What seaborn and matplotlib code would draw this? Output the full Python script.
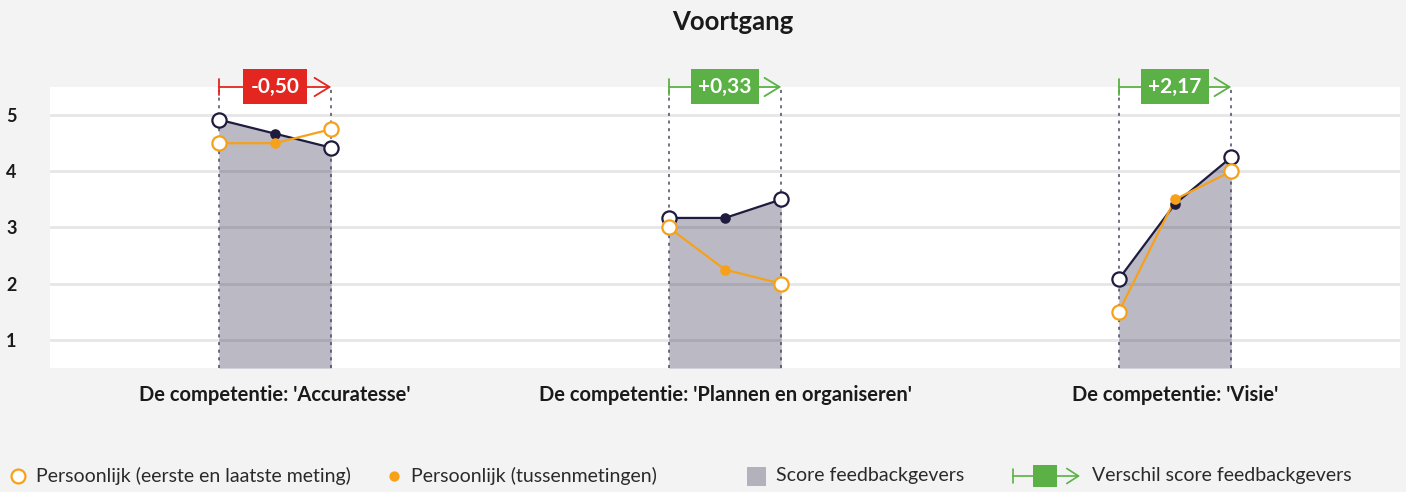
import matplotlib
matplotlib.use("Agg")
import matplotlib.pyplot as plt
import seaborn as sns
import pandas as pd
import numpy as np

# ---------------- data ----------------
categories = ["De competentie: 'Accuratesse'",
              "De competentie: 'Plannen en organiseren'",
              "De competentie: 'Visie'"]
feedback_first = [4.92, 3.17, 2.08]
feedback_mid = [4.67, 3.17, 3.42]
feedback_last = [4.42, 3.50, 4.25]
personal_first = [4.50, 3.00, 1.50]
personal_mid = [4.50, 2.25, 3.50]
personal_last = [4.75, 2.00, 4.00]
y_ticks = [1, 2, 3, 4, 5]

title = "Voortgang"
legend_labels = ["Persoonlijk (eerste en laatste meting)",
                 "Persoonlijk (tussenmetingen)",
                 "Score feedbackgevers",
                 "Verschil score feedbackgevers"]

# ---------------- style ----------------
BG = "#f3f3f3"
DARK = "#1f1b3e"
ORANGE = "#f7a11a"
RED = "#e3261f"
GREEN = "#5bb146"
GRID = "#e6e6e6"
TXT = "#1a1a1a"
LEGTXT = "#2a2a2a"

sns.set_theme(style="white")
plt.rcParams["font.family"] = ["Lato", "DejaVu Sans"]

fig = plt.figure(figsize=(14.06, 4.92), dpi=100, facecolor=BG)
ax = fig.add_axes([50 / 1406, 1 - 368 / 492, 1350 / 1406, 281 / 492])
ax.set_facecolor("white")
ax.set_xlim(0, 3)
ax.set_ylim(0.5, 5.5)
for s in ax.spines.values():
    s.set_visible(False)
ax.set_yticks(y_ticks)
ax.set_yticklabels([str(t) for t in y_ticks], fontsize=13, fontweight="bold", color=TXT)
ax.tick_params(axis="y", length=0, pad=24)
ax.set_xticks([])
for t in y_ticks:
    ax.axhline(t, color=GRID, lw=2, zorder=0)

OFF = 0.125
PXY = 5.0 / 281  # data units per pixel (y)
rows_fb, rows_ps = [], []
for i, cat in enumerate(categories):
    c = i + 0.5
    xs = [c - OFF, c, c + OFF]
    for x, v in zip(xs, [feedback_first[i], feedback_mid[i], feedback_last[i]]):
        rows_fb.append({"cat": cat, "x": x, "y": v})
    for x, v in zip(xs, [personal_first[i], personal_mid[i], personal_last[i]]):
        rows_ps.append({"cat": cat, "x": x, "y": v})
fb = pd.DataFrame(rows_fb)
ps = pd.DataFrame(rows_ps)

for i, cat in enumerate(categories):
    c = i + 0.5
    d_fb = fb[fb["cat"] == cat]
    d_ps = ps[ps["cat"] == cat]
    # area
    ax.fill_between(d_fb["x"], 0.5, d_fb["y"], color=DARK, alpha=0.3, lw=0, zorder=1)
    # dotted verticals
    for x in (c - OFF, c + OFF):
        ax.plot([x, x], [0.5, 5.5], color="#4a4866", lw=1.1, ls=(0, (2, 3)),
                zorder=1.5, clip_on=False)
    # lines
    sns.lineplot(data=d_fb, x="x", y="y", color=DARK, lw=1.6, ax=ax,
                 zorder=3, sort=False, estimator=None)
    sns.lineplot(data=d_ps, x="x", y="y", color=ORANGE, lw=1.6, ax=ax,
                 zorder=4, sort=False, estimator=None)
    # markers
    ends_fb = d_fb.iloc[[0, 2]]
    ends_ps = d_ps.iloc[[0, 2]]
    ax.scatter(d_fb["x"].iloc[1], d_fb["y"].iloc[1], s=58, color=DARK, zorder=5, lw=0)
    ax.scatter(ends_fb["x"], ends_fb["y"], s=105, facecolor="white",
               edgecolor=DARK, lw=1.6, zorder=5)
    ax.scatter(d_ps["x"].iloc[1], d_ps["y"].iloc[1], s=58, color=ORANGE, zorder=6, lw=0)
    ax.scatter(ends_ps["x"], ends_ps["y"], s=105, facecolor="white",
               edgecolor=ORANGE, lw=1.6, zorder=6)
    # difference arrow
    diff = feedback_last[i] - feedback_first[i]
    col = GREEN if diff >= 0 else RED
    ax.annotate("", xy=(c + OFF, 5.5), xytext=(c - OFF, 5.5),
                arrowprops=dict(arrowstyle="->,head_length=0.9,head_width=0.55",
                                color=col, lw=1.3, shrinkA=0, shrinkB=0),
                annotation_clip=False, zorder=7)
    ax.plot([c - OFF, c - OFF], [5.5 - 8 * PXY, 5.5 + 8 * PXY], color=col, lw=1.3,
            clip_on=False, zorder=7)
    lab = ("+" if diff >= 0 else "-") + f"{abs(diff):.2f}".replace(".", ",")
    ax.text(c, 5.5, lab, ha="center", va="center", color="white", fontsize=15,
            fontweight="bold", zorder=8, clip_on=False,
            bbox=dict(boxstyle="square,pad=0.36", fc=col, ec="none"))
    # category label
    ax.text(c, 0.5 - 27 * PXY, cat, ha="center", va="center", fontsize=14.5,
            fontweight="bold", color=TXT, clip_on=False)

ax.set_xlabel("")
ax.set_ylabel("")

fig.text(733 / 1406, 1 - 22 / 492, title, ha="center", va="center",
         fontsize=18.5, fontweight="bold", color=TXT)

# ---------------- legend ----------------
lg = fig.add_axes([0, 0, 1, 1], facecolor="none")
lg.set_xlim(0, 1406)
lg.set_ylim(492, 0)
lg.axis("off")
ly = 476
FS = 14
lg.scatter([18], [ly], s=100, facecolor="white", edgecolor=ORANGE, lw=1.6)
lg.text(36, ly, legend_labels[0], va="center", fontsize=FS, color=LEGTXT)
lg.scatter([394], [ly], s=55, color=ORANGE, lw=0)
lg.text(411, ly, legend_labels[1], va="center", fontsize=FS, color=LEGTXT)
lg.add_patch(plt.Rectangle((747, ly - 9.5), 19, 19, color=DARK, alpha=0.3, lw=0))
lg.text(776, ly, legend_labels[2], va="center", fontsize=FS, color=LEGTXT)
lg.annotate("", xy=(1080, ly), xytext=(1013, ly),
            arrowprops=dict(arrowstyle="->,head_length=0.7,head_width=0.45",
                            color=GREEN, lw=1.2, shrinkA=0, shrinkB=0))
lg.plot([1013, 1013], [ly - 7, ly + 7], color=GREEN, lw=1.2)
lg.add_patch(plt.Rectangle((1033, ly - 11), 24, 22, color=GREEN, lw=0))
lg.text(1092, ly, legend_labels[3], va="center", fontsize=FS, color=LEGTXT)

fig.savefig("out.png", dpi=100, facecolor=BG)
